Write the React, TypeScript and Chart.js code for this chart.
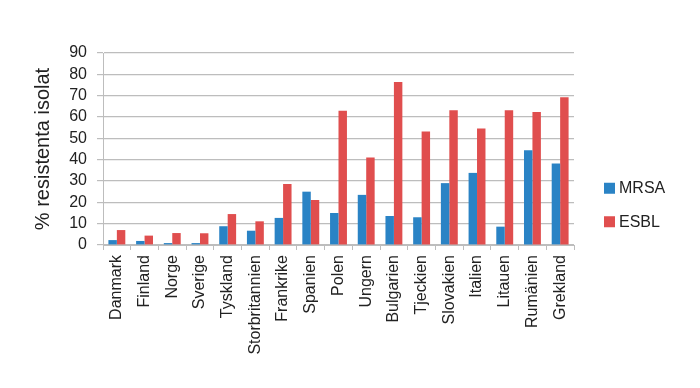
import React, { useEffect, useRef } from "react";
import { Chart, registerables } from "chart.js";

Chart.register(...registerables);

const categories = [
  "Danmark", "Finland", "Norge", "Sverige", "Tyskland", "Storbritannien",
  "Frankrike", "Spanien", "Polen", "Ungern", "Bulgarien", "Tjeckien",
  "Slovakien", "Italien", "Litauen", "Rumänien", "Grekland",
];
const mrsa = [2.3, 1.9, 0.9, 0.9, 8.8, 6.7, 12.7, 25.0, 15.0, 23.5, 13.6, 13.0, 29.0, 33.8, 8.6, 44.4, 38.2];
const esbl = [7.0, 4.4, 5.6, 5.5, 14.5, 11.1, 28.6, 21.1, 62.9, 41.0, 76.4, 53.2, 63.2, 54.6, 63.2, 62.4, 69.2];
const seriesNames = ["MRSA", "ESBL"];
const seriesColors = ["#2A83C5", "#E04E4E"];
const yTitle = "% resistenta isolat";

const FONT = "'Liberation Sans', Arial, sans-serif";

// Legend drawn at the right, Excel style (square + label)
const sideLegend = {
  id: "sideLegend",
  afterDraw(chart: any) {
    const ctx = chart.ctx as CanvasRenderingContext2D;
    const x0 = chart.chartArea.right + 30;
    const step = 33.5;
    const yMid = 205;
    const n = chart.data.datasets.length;
    ctx.save();
    ctx.font = `16px ${FONT}`;
    ctx.textBaseline = "middle";
    ctx.textAlign = "left";
    chart.data.datasets.forEach((ds: any, i: number) => {
      const cy = yMid + (i - (n - 1) / 2) * step;
      ctx.fillStyle = ds.backgroundColor;
      ctx.fillRect(x0, cy - 5.5, 11, 11);
      ctx.fillStyle = "#222";
      ctx.fillText(ds.label, x0 + 15, cy + 0.5);
    });
    ctx.restore();
  },
};

export default function App() {
  const ref = useRef<HTMLCanvasElement | null>(null);
  useEffect(() => {
    document.body.style.margin = "0";
    const chart = new Chart(ref.current!, {
      type: "bar",
      data: {
        labels: categories,
        datasets: [
          { label: seriesNames[0], data: mrsa, backgroundColor: seriesColors[0], barPercentage: 1, categoryPercentage: 0.61 },
          { label: seriesNames[1], data: esbl, backgroundColor: seriesColors[1], barPercentage: 1, categoryPercentage: 0.61 },
        ],
      },
      options: {
        animation: false,
        responsive: false,
        layout: { padding: { top: 53, bottom: 0, left: 27, right: 126 } },
        plugins: {
          tooltip: { enabled: false },
          legend: { display: false },
        },
        scales: {
          x: {
            afterFit: (s: any) => { s.height = 143; },
            grid: { display: true, drawOnChartArea: false, color: "#BDBDBD", tickLength: 5, offset: true },
            border: { color: "#BDBDBD" },
            ticks: {
              minRotation: 90,
              maxRotation: 90,
              autoSkip: false,
              padding: 5,
              color: "#222",
              font: { family: FONT, size: 16 },
            },
          },
          y: {
            min: 0,
            max: 90,
            afterFit: (s: any) => { s.width = 76; },
            grid: { color: "#BDBDBD", tickLength: 6, lineWidth: 1.2 },
            border: { color: "#BDBDBD" },
            ticks: {
              stepSize: 10,
              autoSkip: false,
              padding: 10,
              color: "#222",
              font: { family: FONT, size: 16 },
            },
            title: {
              display: true,
              text: yTitle,
              color: "#222",
              padding: { top: 4, bottom: 1 },
              font: { family: FONT, size: 20 },
            },
          },
        },
      },
      plugins: [sideLegend],
    });
    return () => chart.destroy();
  }, []);
  return (
    <div style={{ width: 700, height: 388, background: "#fff" }}>
      <canvas ref={ref} width={700} height={388} style={{ display: "block" }} />
    </div>
  );
}
